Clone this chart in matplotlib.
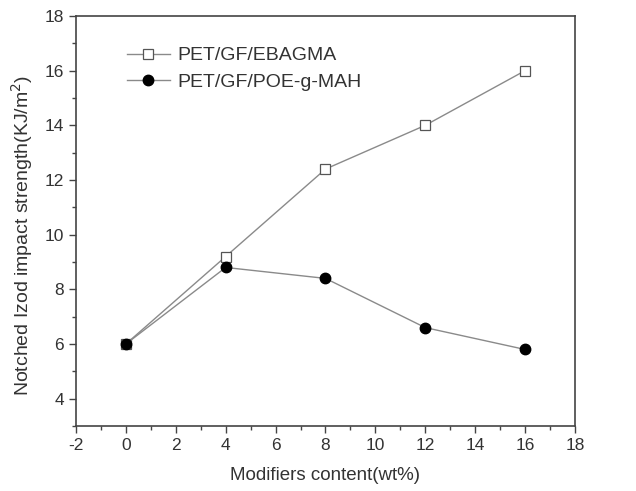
import matplotlib
matplotlib.use("Agg")
import matplotlib.pyplot as plt
from matplotlib.ticker import MultipleLocator

plt.rcParams['font.family'] = ['Liberation Sans', 'DejaVu Sans']
plt.rcParams['axes.unicode_minus'] = False

# Data
content = [0, 4, 8, 12, 16]
ebagma = [6.0, 9.2, 12.4, 14.0, 16.0]
poe_g_mah = [6.0, 8.8, 8.4, 6.6, 5.8]

fig = plt.figure(figsize=(6.36, 4.91), dpi=100)
ax = fig.add_axes([0.1195, 0.1324, 0.7845, 0.835])

ax.plot(content, ebagma, color='#8a8a8a', lw=1.0, marker='s', ms=6.5,
        mfc='white', mec='#555555', mew=0.9, label='PET/GF/EBAGMA')
ax.plot(content, poe_g_mah, color='#8a8a8a', lw=1.0, marker='o', ms=7.5,
        mfc='black', mec='black', label='PET/GF/POE-g-MAH')

ax.set_xlim(-2, 18)
ax.set_ylim(3, 18)
ax.xaxis.set_major_locator(MultipleLocator(2))
ax.xaxis.set_minor_locator(MultipleLocator(1))
ax.yaxis.set_major_locator(MultipleLocator(2))
ax.yaxis.set_minor_locator(MultipleLocator(1))
ax.tick_params(which='both', direction='out', colors='#444444', labelcolor='#333333', width=1.0)
ax.tick_params(which='major', length=5, labelsize=12.5)
ax.tick_params(which='minor', length=3)
for s in ax.spines.values():
    s.set_color('#444444')
    s.set_linewidth(1.2)

ax.set_xlabel('Modifiers content(wt%)', fontsize=13.5, color='#333333', labelpad=10)
ax.set_ylabel('Notched Izod impact strength(KJ/m$^2$)', fontsize=14, color='#333333')
ax.yaxis.set_label_coords(-0.082, 0.465)

ax.legend(loc='upper left', bbox_to_anchor=(0.102, 0.925), frameon=False, fontsize=14,
          borderpad=0, borderaxespad=0, handlelength=2.2, handletextpad=0.4,
          labelspacing=0.45, labelcolor='#333333')

fig.savefig('out.png', dpi=100)
